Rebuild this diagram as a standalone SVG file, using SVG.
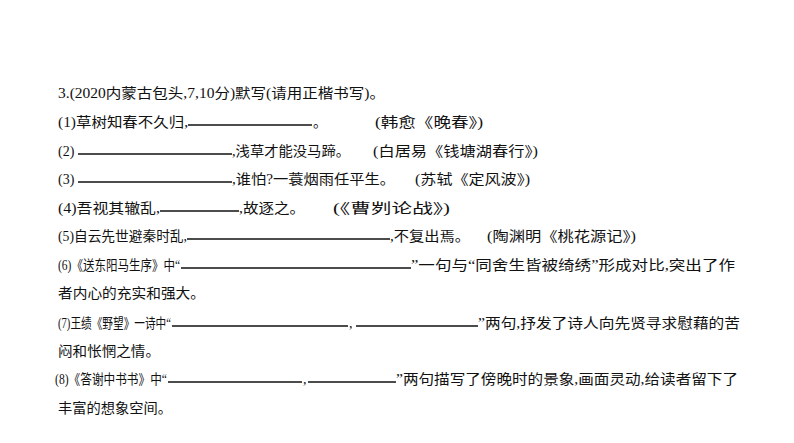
<svg xmlns="http://www.w3.org/2000/svg" width="794" height="443" viewBox="0 0 794 443">
<style>
text{font-family:"Liberation Serif","Noto Sans CJK SC",serif;font-size:14px;fill:#111}
line{stroke:#111;stroke-width:1.3}
</style>
<rect width="794" height="443" fill="#fff"/>
<g id="title"><text x="58" y="98" textLength="327" lengthAdjust="spacingAndGlyphs">3.(2020内蒙古包头,7,10分)默写(请用正楷书写)。</text></g>
<g id="q1"><text x="58" y="127" textLength="130" lengthAdjust="spacingAndGlyphs">(1)草树知春不久归,</text><line x1="188" y1="125" x2="312" y2="125"/><text x="313" y="127">。</text><text x="375" y="127" textLength="108" lengthAdjust="spacingAndGlyphs">(韩愈《晚春》)</text></g>
<g id="q2"><text x="58" y="156">(2)</text><line x1="78" y1="154" x2="232" y2="154"/><text x="232" y="156" textLength="118" lengthAdjust="spacingAndGlyphs">,浅草才能没马蹄。</text><text x="373" y="156" textLength="165" lengthAdjust="spacingAndGlyphs">(白居易《钱塘湖春行》)</text></g>
<g id="q3"><text x="58" y="184">(3)</text><line x1="78" y1="182" x2="232" y2="182"/><text x="232" y="184" textLength="163" lengthAdjust="spacingAndGlyphs">,谁怕?一蓑烟雨任平生。</text><text x="415" y="184" textLength="115" lengthAdjust="spacingAndGlyphs">(苏轼《定风波》)</text></g>
<g id="q4"><text x="58" y="213" textLength="102" lengthAdjust="spacingAndGlyphs">(4)吾视其辙乱,</text><line x1="160" y1="211" x2="239" y2="211"/><text x="239" y="213" textLength="66" lengthAdjust="spacingAndGlyphs">,故逐之。</text><text x="333" y="213" textLength="117" lengthAdjust="spacingAndGlyphs">(《曹刿论战》)</text></g>
<g id="q5"><text x="58" y="241" textLength="129" lengthAdjust="spacingAndGlyphs">(5)自云先世避秦时乱,</text><line x1="187" y1="239" x2="390" y2="239"/><text x="390" y="241" textLength="80" lengthAdjust="spacingAndGlyphs">,不复出焉。</text><text x="487" y="241" textLength="149" lengthAdjust="spacingAndGlyphs">(陶渊明《桃花源记》)</text></g>
<g id="q6"><text x="58" y="270" textLength="122" lengthAdjust="spacingAndGlyphs">(6)《送东阳马生序》中“</text><line x1="181" y1="268" x2="411" y2="268"/><text x="411" y="270" textLength="324" lengthAdjust="spacingAndGlyphs">”一句与“同舍生皆被绮绣”形成对比,突出了作</text><text x="58" y="298" textLength="147" lengthAdjust="spacingAndGlyphs">者内心的充实和强大。</text></g>
<g id="q7"><text x="58" y="328" textLength="113" lengthAdjust="spacingAndGlyphs">(7)王绩《野望》一诗中“</text><line x1="172" y1="326" x2="348" y2="326"/><text x="349" y="328">,</text><line x1="356" y1="326" x2="478" y2="326"/><text x="478" y="328" textLength="262" lengthAdjust="spacingAndGlyphs">”两句,抒发了诗人向先贤寻求慰藉的苦</text><text x="58" y="356" textLength="102" lengthAdjust="spacingAndGlyphs">闷和怅惘之情。</text></g>
<g id="q8"><text x="55" y="384" textLength="112" lengthAdjust="spacingAndGlyphs">(8)《答谢中书书》中“</text><line x1="168" y1="382" x2="302" y2="382"/><text x="303" y="384">,</text><line x1="308" y1="382" x2="396" y2="382"/><text x="396" y="384" textLength="342" lengthAdjust="spacingAndGlyphs">”两句描写了傍晚时的景象,画面灵动,给读者留下了</text><text x="58" y="413" textLength="114" lengthAdjust="spacingAndGlyphs">丰富的想象空间。</text></g>
<g id="connectors"/>
</svg>
